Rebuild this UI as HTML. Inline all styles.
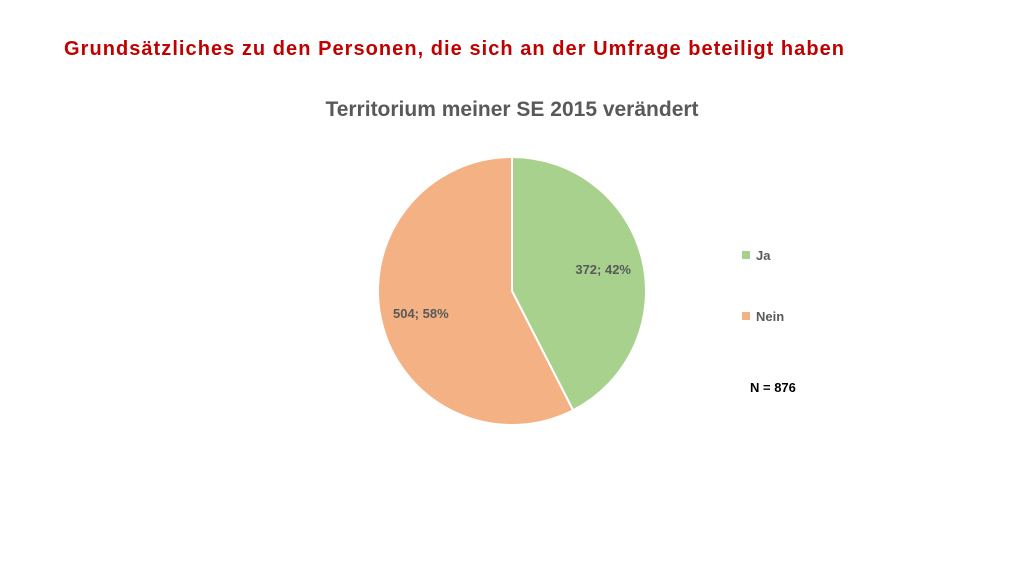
<!DOCTYPE html>
<html><head><meta charset="utf-8"><style>
body{margin:0;width:1024px;height:576px;background:#fff;overflow:hidden;font-family:"Liberation Sans",sans-serif;}
</style></head><body>
<svg width="1024" height="576" viewBox="0 0 1024 576">
<text x="64" y="55" font-size="20" font-weight="bold" fill="#C00000" textLength="780">Grundsätzliches zu den Personen, die sich an der Umfrage beteiligt haben</text>
<text x="512" y="116" font-size="21" font-weight="bold" fill="#595959" text-anchor="middle">Territorium meiner SE 2015 verändert</text>
<g id="pie"></g>
<g>
<rect x="742" y="251" width="8" height="8" fill="#A9D18E"/>
<text x="756" y="260" font-size="13" font-weight="bold" fill="#595959">Ja</text>
<rect x="742" y="312" width="8" height="8" fill="#F4B183"/>
<text x="756" y="321" font-size="13" font-weight="bold" fill="#595959">Nein</text>
</g>
<text x="750" y="392" font-size="13" font-weight="bold" fill="#000">N = 876</text>
</svg>
<script>
const categories=["Ja","Nein"];
const values=[372,504];
const colors=["#A9D18E","#F4B183"];
const cx=512,cy=291,r=134;
const g=document.getElementById('pie');
const total=values.reduce((a,b)=>a+b,0);
let a0=0;
const ns="http://www.w3.org/2000/svg";
values.forEach((v,i)=>{
  const a1=a0+v/total*2*Math.PI;
  const x0=cx+r*Math.sin(a0),y0=cy-r*Math.cos(a0),x1=cx+r*Math.sin(a1),y1=cy-r*Math.cos(a1);
  const p=document.createElementNS(ns,'path');
  p.setAttribute('d',`M${cx},${cy}L${x0},${y0}A${r},${r} 0 ${a1-a0>Math.PI?1:0} 1 ${x1},${y1}Z`);
  p.setAttribute('fill',colors[i]);p.setAttribute('stroke','#fff');p.setAttribute('stroke-width','2');
  
  
  g.appendChild(p);
  const am=(a0+a1)/2,lr=r*0.7;
  const t=document.createElementNS(ns,'text');
  t.setAttribute('x',cx+lr*Math.sin(am));t.setAttribute('y',cy-lr*Math.cos(am)+5);
  t.setAttribute('text-anchor','middle');t.setAttribute('font-size','13');t.setAttribute('font-weight','bold');t.setAttribute('fill','#595959');
  t.textContent=v+'; '+Math.round(v/total*100)+'%';
  
  
  g.appendChild(t);
  a0=a1;
});
</script>
</body></html>
